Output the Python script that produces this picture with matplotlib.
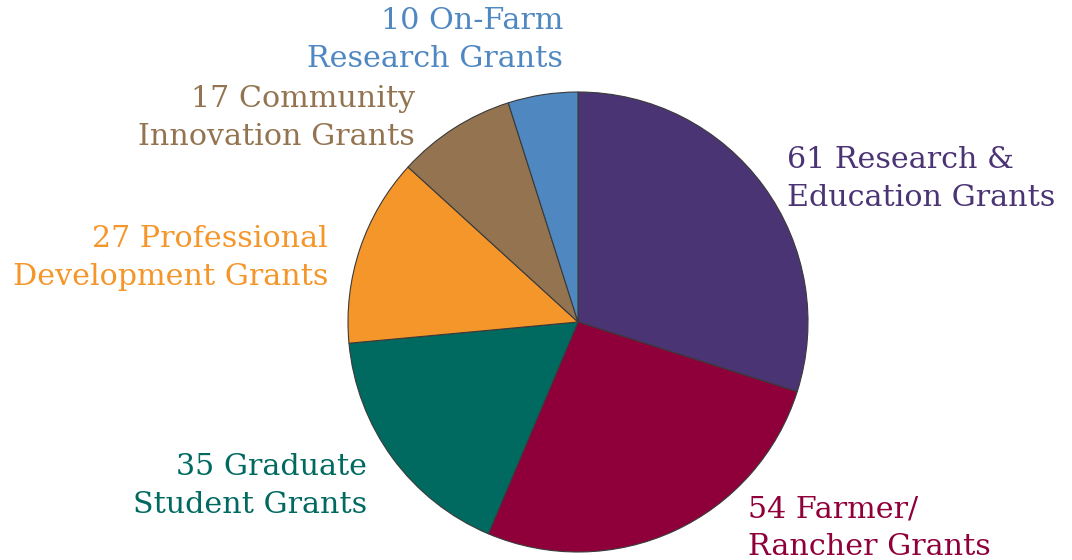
import matplotlib.pyplot as plt

labels = ['61 Research &\nEducation Grants', '54 Farmer/\nRancher Grants',
          '35 Graduate\nStudent Grants', '27 Professional\nDevelopment Grants',
          '17 Community\nInnovation Grants', '10 On-Farm\nResearch Grants']
values = [61, 54, 35, 27, 17, 10]
colors = ['#4B3474', '#8F003B', '#006A60', '#F5962A', '#947450', '#4F87C1']

# label anchor (pixel coords from top-left) and alignment
label_pos = [(787, 179, 'left'), (748, 528, 'left'), (367, 486, 'right'),
             (328, 258, 'right'), (415, 118, 'right'), (563, 40, 'right')]

W, H = 1072, 560
fig = plt.figure(figsize=(W / 100, H / 100), dpi=100)
ax = fig.add_axes([0, 0, 1, 1])

ax.pie(values, colors=colors, startangle=90, counterclock=False,
       center=(578, H - 322), radius=230, frame=True,
       wedgeprops=dict(edgecolor='#3a3a3a', linewidth=0.8))
ax.set_xlim(0, W)
ax.set_ylim(0, H)
ax.axis('off')

for lab, (x, y, ha), c in zip(labels, label_pos, colors):
    ax.text(x, H - y, lab, ha=ha, va='center', color=c, fontsize=21.7,
            family='DejaVu Serif', linespacing=1.42, multialignment=ha)

fig.savefig('out.png', dpi=100)
